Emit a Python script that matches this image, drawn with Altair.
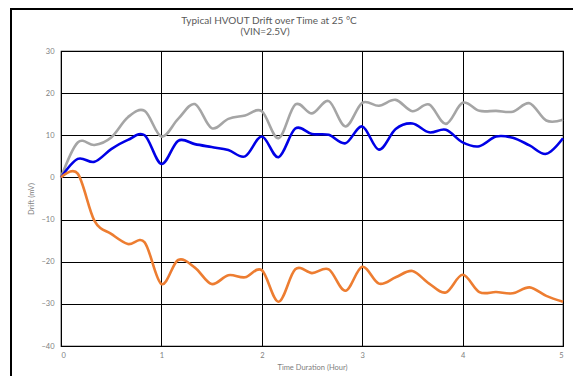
import altair as alt
import pandas as pd

# Time samples (hours)
hours = [0, 0.1667, 0.3333, 0.5, 0.6667, 0.8333, 1.0, 1.1667, 1.3333, 1.5, 1.6667,
         1.8333, 2.0, 2.1667, 2.3333, 2.5, 2.6667, 2.8333, 3.0, 3.1667, 3.3333,
         3.5, 3.6667, 3.8333, 4.0, 4.1667, 4.3333, 4.5, 4.6667, 4.8333, 5.0]

gray_vals = [0, 8.3, 7.7, 9.5, 14.3, 15.8, 9.7, 13.9, 17.4, 11.7, 13.9,
             14.7, 15.7, 9.3, 17.3, 15.2, 18.1, 12.1, 17.7, 17.0, 18.4,
             15.7, 17.3, 12.7, 17.7, 15.8, 15.8, 15.6, 17.6, 13.5, 13.7]

blue_vals = [0, 4.4, 3.7, 6.7, 8.9, 10.0, 3.2, 8.7, 7.9, 7.2, 6.5,
             5.0, 9.7, 4.8, 11.6, 10.3, 10.1, 8.1, 12.1, 6.6, 11.5,
             12.8, 10.7, 11.3, 8.3, 7.4, 9.7, 9.4, 7.6, 5.6, 9.3]

orange_vals = [0, 0.9, -10.3, -13.4, -15.8, -15.4, -25.3, -19.6, -21.4, -25.3, -23.2,
               -23.7, -22.0, -29.5, -21.8, -22.7, -21.8, -26.9, -21.2, -25.2, -23.7,
               -22.2, -25.2, -27.3, -23.1, -27.2, -27.2, -27.5, -26.1, -28.1, -29.5]

series_names = ["S1", "S2", "S3"]
series_colors = ["#A5A5A5", "#0000E6", "#ED7D31"]

title_lines = ["Typical HVOUT Drift over Time  at 25 °C", "(VIN=2.5V)"]

rows = []
for name, vals in zip(series_names, [gray_vals, blue_vals, orange_vals]):
    for t, v in zip(hours, vals):
        rows.append({"t": t, "v": v, "series": name})
df = pd.DataFrame(rows)
one = pd.DataFrame({"k": [0]})

x_ticks = [0, 1, 2, 3, 4, 5]
y_ticks = [-40, -30, -20, -10, 0, 10, 20, 30]

lines = alt.Chart(df).mark_line(interpolate="cardinal", strokeWidth=2.6).encode(
    x=alt.X("t:Q", scale=alt.Scale(domain=[0, 5], nice=False),
            axis=alt.Axis(values=x_ticks, title="Time Duration (Hour)", format="d")),
    y=alt.Y("v:Q", scale=alt.Scale(domain=[-40, 30], nice=False),
            axis=alt.Axis(values=y_ticks, title="Drift (mV)", format="d")),
    color=alt.Color("series:N", scale=alt.Scale(domain=series_names, range=series_colors), legend=None),
    order=alt.Order("t:Q"),
)

frame_left = alt.Chart(one).mark_rule(color="black", strokeWidth=2).encode(
    x=alt.value(-50), y=alt.value(-60), y2=alt.value(400)
)
frame_top = alt.Chart(one).mark_rule(color="black", strokeWidth=2).encode(
    x=alt.value(-51), x2=alt.value(600), y=alt.value(-42)
)

title_style = dict(font="Lato", fontSize=10, color="#595959", align="center", baseline="alphabetic")
title1 = alt.Chart(one).mark_text(**title_style).encode(
    x=alt.value(208), y=alt.value(-27), text=alt.value(title_lines[0])
)
title2 = alt.Chart(one).mark_text(**title_style).encode(
    x=alt.value(204), y=alt.value(-16), text=alt.value(title_lines[1])
)

chart = alt.layer(lines, frame_left, frame_top, title1, title2).properties(
    width=502,
    height=295,
    autosize=alt.AutoSizeParams(type="none"),
    padding={"left": 53, "top": 43, "right": 10, "bottom": 30},
).configure_view(
    stroke="black", strokeWidth=1.2
).configure_axis(
    grid=True, gridColor="#000000", gridWidth=1, gridOpacity=1,
    domain=False, ticks=False,
    labelFont="Lato", labelFontSize=7.5, labelColor="#808080",
    titleFont="Lato", titleFontSize=7.5, titleColor="#808080", titleFontWeight="normal",
).configure_axisX(
    labelPadding=5, titlePadding=5
).configure_axisY(
    labelPadding=7, titlePadding=5
)

chart.save("out.html", embed_options={"renderer": "svg", "actions": False})
